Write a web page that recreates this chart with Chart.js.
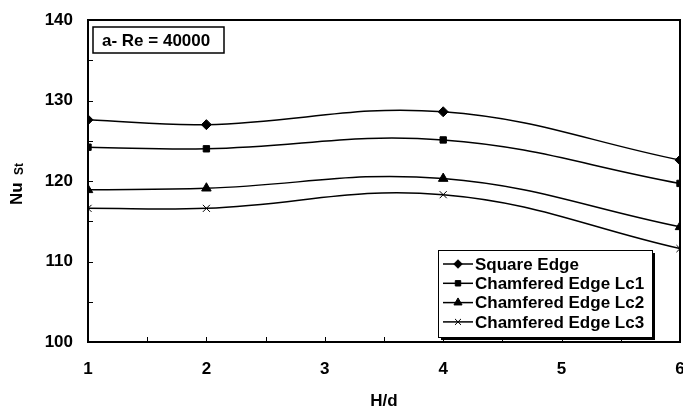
<!DOCTYPE html>
<html>
<head>
<meta charset="utf-8">
<script src="https://cdn.jsdelivr.net/npm/chart.js@4.4.1/dist/chart.umd.min.js"></script>
<style>
  html, body { margin: 0; padding: 0; background: #fff; }
  #wrap { width: 683px; height: 411px; }
</style>
</head>
<body>
<div id="wrap"><canvas id="nuChart"></canvas></div>
<script>
// data
var hd = [1, 2, 4, 6];
var squareEdge = [127.6, 127.0, 128.6, 122.6];
var chamferLc1 = [124.2, 124.0, 125.1, 119.7];
var chamferLc2 = [118.9, 119.1, 120.3, 114.3];
var chamferLc3 = [116.6, 116.6, 118.3, 111.6];
var seriesNames = ['Square Edge', 'Chamfered Edge Lc1', 'Chamfered Edge Lc2', 'Chamfered Edge Lc3'];
var yTicks = [100, 110, 120, 130, 140];
var annotationText = 'a- Re = 40000';

var FONT = '"Liberation Sans", Arial, sans-serif';

function pts(vals) {
    return hd.map(function(x, i) { return { x: x, y: vals[i] }; });
}

function makeSet(label, vals, style, radius) {
    return {
        label: label,
        data: pts(vals),
        borderColor: '#000',
        backgroundColor: '#000',
        borderWidth: 1.5,
        pointStyle: style,
        pointRadius: radius,
        pointBorderWidth: 1,
        tension: 0.4,
        fill: false
    };
}

// frame, inward ticks, annotation box, legend, axis titles
var decorPlugin = {
    id: 'decor',
    afterDraw: function(chart) {
        var ctx = chart.ctx;
        var a = chart.chartArea;
        var xs = chart.scales.x, ys = chart.scales.y;
        ctx.save();
        ctx.strokeStyle = '#000';

        // inward ticks
        ctx.lineWidth = 1;
        for (var v = 100; v <= 140; v += 5) {
            var py = Math.round(ys.getPixelForValue(v)) + 0.5;
            ctx.beginPath(); ctx.moveTo(a.left, py); ctx.lineTo(a.left + 5, py); ctx.stroke();
        }
        for (var t = 1; t <= 6; t += 0.5) {
            var px = Math.round(xs.getPixelForValue(t)) + 0.5;
            ctx.beginPath(); ctx.moveTo(px, a.bottom); ctx.lineTo(px, a.bottom - 5); ctx.stroke();
        }

        // frame
        ctx.lineWidth = 2;
        ctx.strokeRect(a.left, a.top, a.right - a.left, a.bottom - a.top);

        // annotation box
        ctx.fillStyle = '#fff';
        ctx.fillRect(93, 27, 131, 26);
        ctx.lineWidth = 1.5;
        ctx.strokeRect(93, 27, 131, 26);
        ctx.fillStyle = '#000';
        ctx.font = 'bold 17px ' + FONT;
        ctx.textBaseline = 'middle';
        ctx.textAlign = 'left';
        ctx.fillText(annotationText, 102, 41);

        // legend with shadow
        var lx = 438, ly = 250, lw = 214, lh = 87;
        ctx.fillStyle = '#000';
        ctx.fillRect(lx + 3, ly + 3, lw, lh);
        ctx.fillStyle = '#fff';
        ctx.fillRect(lx, ly, lw, lh);
        ctx.lineWidth = 1;
        ctx.strokeRect(lx + 0.5, ly + 0.5, lw, lh);
        chart.data.datasets.forEach(function(ds, i) {
            var ry = ly + 14 + i * 19.3;
            ctx.fillStyle = '#000';
            ctx.lineWidth = 1.5;
            ctx.beginPath(); ctx.moveTo(lx + 5, ry); ctx.lineTo(lx + 35, ry); ctx.stroke();
            ctx.lineWidth = 1;
            Chart.helpers.drawPoint(ctx, { pointStyle: ds.pointStyle, radius: ds.pointRadius * 0.85, rotation: 0, borderWidth: 1 }, lx + 20, ry);
            ctx.fillStyle = '#000';
            ctx.font = 'bold 17px ' + FONT;
            ctx.fillText(ds.label, lx + 37, ry + 1);
        });

        // axis titles
        ctx.font = 'bold 17px ' + FONT;
        ctx.textAlign = 'center';
        ctx.fillText('H/d', (a.left + a.right) / 2, 401);
        ctx.translate(22, 205);
        ctx.rotate(-Math.PI / 2);
        ctx.textAlign = 'left';
        ctx.textBaseline = 'alphabetic';
        ctx.fillText('Nu', 0, 0);
        ctx.font = 'bold 12px ' + FONT;
        ctx.fillText('St', 30, 1);
        ctx.restore();
    }
};

new Chart(document.getElementById('nuChart'), {
    type: 'line',
    data: {
        datasets: [
            makeSet(seriesNames[0], squareEdge, 'rectRot', 5),
            makeSet(seriesNames[1], chamferLc1, 'rect', 4.5),
            makeSet(seriesNames[2], chamferLc2, 'triangle', 5.5),
            makeSet(seriesNames[3], chamferLc3, 'crossRot', 5)
        ]
    },
    options: {
        responsive: true,
        maintainAspectRatio: false,
        animation: false,
        layout: { autoPadding: false, padding: { top: 20, right: 3, left: 0, bottom: 0 } },
        plugins: { legend: { display: false }, tooltip: { enabled: false } },
        scales: {
            x: {
                type: 'linear',
                min: 1, max: 6,
                grid: { display: false, drawTicks: false },
                border: { display: false },
                afterFit: function(s) { s.height = 69; s.paddingLeft = 0; s.paddingRight = 0; },
                ticks: {
                    stepSize: 1,
                    padding: 17,
                    maxRotation: 0,
                    color: '#000',
                    font: { family: FONT, size: 17, weight: 'bold' }
                }
            },
            y: {
                min: 100, max: 140,
                grid: { display: false, drawTicks: false },
                border: { display: false },
                afterFit: function(s) { s.width = 88; s.paddingTop = 0; s.paddingBottom = 0; },
                afterBuildTicks: function(s) { s.ticks = yTicks.map(function(v) { return { value: v }; }); },
                ticks: {
                    padding: 15,
                    color: '#000',
                    font: { family: FONT, size: 17, weight: 'bold' }
                }
            }
        }
    },
    plugins: [decorPlugin]
});
</script>
</body>
</html>
